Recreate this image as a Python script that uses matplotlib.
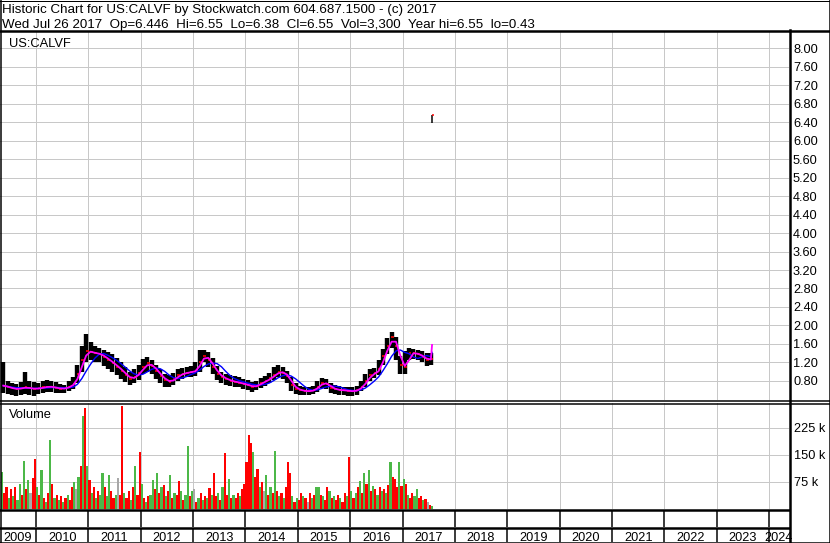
import matplotlib
matplotlib.use('Agg')
import matplotlib.pyplot as plt
from matplotlib.lines import Line2D
import numpy as np
import pandas as pd

plt.rcParams['font.family'] = ['Liberation Sans', 'DejaVu Sans']

W, H = 830, 543

header1 = "Historic Chart for US:CALVF by Stockwatch.com 604.687.1500 - (c) 2017"
header2 = "Wed Jul 26 2017  Op=6.446  Hi=6.55  Lo=6.38  Cl=6.55  Vol=3,300  Year hi=6.55  lo=0.43"
symbol = "US:CALVF"

# monthly bars, May 2009 .. Jul 2017
close = [0.70, 0.66, 0.64, 0.62, 0.65, 0.66, 0.64, 0.63,
         0.64, 0.66, 0.68, 0.67, 0.65, 0.63, 0.64, 0.68, 0.74, 0.95, 1.25, 1.45,
         1.42, 1.40, 1.38, 1.32, 1.25, 1.18, 1.10, 1.02, 0.92, 0.85, 0.88, 0.98,
         1.10, 1.18, 1.12, 1.02, 0.90, 0.82, 0.78, 0.84, 0.92, 0.96, 0.98, 1.00,
         1.02, 1.22, 1.35, 1.25, 1.10, 0.96, 0.88, 0.84, 0.80, 0.78, 0.76, 0.73,
         0.71, 0.67, 0.70, 0.76, 0.80, 0.86, 0.93, 1.00, 0.98, 0.90, 0.72, 0.63,
         0.60, 0.58, 0.58, 0.60, 0.68, 0.76, 0.74, 0.65, 0.62, 0.60, 0.60, 0.58,
         0.58, 0.60, 0.68, 0.80, 0.93, 0.97, 1.05, 1.35, 1.55, 1.75, 1.55, 1.15,
         1.10, 1.40, 1.40, 1.38, 1.32, 1.25, 1.28]
high = [1.22, 0.80, 0.76, 0.74, 0.78, 1.00, 0.80, 0.78,
        0.76, 0.80, 0.82, 0.80, 0.78, 0.74, 0.72, 0.80, 0.88, 1.15, 1.55, 1.82,
        1.65, 1.55, 1.52, 1.48, 1.42, 1.38, 1.30, 1.20, 1.10, 1.00, 1.05, 1.15,
        1.28, 1.32, 1.25, 1.15, 1.05, 0.95, 0.92, 0.98, 1.05, 1.08, 1.10, 1.12,
        1.20, 1.48, 1.48, 1.42, 1.30, 1.12, 1.00, 0.96, 0.92, 0.90, 0.88, 0.85,
        0.82, 0.78, 0.80, 0.86, 0.90, 0.98, 1.10, 1.15, 1.10, 1.02, 0.88, 0.75,
        0.70, 0.68, 0.66, 0.70, 0.80, 0.86, 0.84, 0.76, 0.72, 0.70, 0.68, 0.66,
        0.66, 0.70, 0.80, 0.96, 1.05, 1.08, 1.25, 1.50, 1.72, 1.85, 1.75, 1.35,
        1.45, 1.52, 1.50, 1.48, 1.45, 1.40, 1.40]
low = [0.55, 0.52, 0.50, 0.48, 0.50, 0.52, 0.50, 0.48,
       0.52, 0.55, 0.56, 0.56, 0.54, 0.54, 0.55, 0.58, 0.62, 0.75, 1.00, 1.20,
       1.25, 1.22, 1.20, 1.12, 1.05, 1.00, 0.92, 0.85, 0.78, 0.72, 0.75, 0.82,
       0.95, 1.00, 0.95, 0.85, 0.75, 0.68, 0.66, 0.72, 0.80, 0.85, 0.88, 0.88,
       0.90, 1.00, 1.20, 1.10, 0.95, 0.82, 0.76, 0.72, 0.70, 0.68, 0.66, 0.62,
       0.60, 0.56, 0.60, 0.65, 0.70, 0.75, 0.82, 0.88, 0.85, 0.75, 0.58, 0.52,
       0.50, 0.50, 0.50, 0.52, 0.56, 0.64, 0.62, 0.55, 0.52, 0.50, 0.50, 0.48,
       0.48, 0.50, 0.58, 0.68, 0.80, 0.86, 0.92, 1.15, 1.38, 1.52, 1.25, 0.95,
       0.95, 1.25, 1.28, 1.25, 1.20, 1.12, 1.15]

# last trading day (Jul 26 2017)
last_day = 2017.564
last_hi, last_lo, last_cl = 6.55, 6.38, 6.55
ma_fast_last = 1.58
ma_slow_last = 1.42

# volume in thousands, half-month bins from May 2009
vol = [104, 45, 60, 30, 55, 35, 60, 25, 70, 40,
       133, 55, 80, 45, 85, 138, 60, 40, 107, 30,
       20, 45, 190, 70, 30, 40, 25, 35, 20, 30,
       40, 25, 60, 75, 55, 90, 120, 257, 280, 120,
       80, 45, 60, 30, 50, 40, 100, 60, 35, 95,
       50, 30, 40, 87, 40, 286, 45, 30, 50, 25,
       60, 120, 40, 159, 70, 30, 20, 35, 40, 80,
       55, 100, 45, 60, 67, 35, 50, 93, 30, 45,
       40, 77, 50, 25, 40, 176, 35, 50, 55, 20,
       30, 45, 25, 35, 30, 57, 40, 100, 35, 45,
       25, 60, 156, 40, 82, 30, 40, 30, 45, 35,
       55, 70, 130, 205, 182, 157, 90, 110, 60, 75,
       50, 95, 40, 60, 45, 162, 50, 35, 45, 30,
       60, 130, 101, 35, 20, 30, 25, 45, 35, 30,
       20, 45, 30, 40, 60, 60, 40, 35, 25, 60,
       50, 30, 35, 25, 40, 30, 20, 45, 35, 144,
       50, 30, 45, 60, 77, 45, 100, 70, 107, 50,
       65, 55, 40, 60, 50, 55, 45, 67, 130, 89,
       84, 60, 130, 65, 84, 68, 40, 30, 45, 35,
       55, 30, 35, 25, 29, 20, 10, 8]
vol_dir = ("grrgrgrggr" "grgkrrgrgr" "grgrgrgrgr" "grrgkgrgrg" "rgrgrggrgg"
           "rrgkrrgrrg" "rgrrgrgrgg" "rgrgrgrgrg" "rrgrggrgkr" "grgrgrgrrg"
           "rgrrgrgrrg" "rrrrrgrrgr" "kgrgrgrgrg" "rrrgrgrrgr" "krgrggrgrr"
           "grgrrgrrgr" "grgrgrgrgr" "grgrgrgrgr" "rrgrgrgrrg" "grrgrkrg")

price_ticks = np.arange(0.8, 8.01, 0.4)
vol_ticks = [75000, 150000, 225000]
vol_labels = ["75 k", "150 k", "225 k"]
years = list(range(2009, 2025))

# ---- layout in pixels
px_per_year = 52.36
x0_year = 2010 + (0 - 36) / px_per_year
x1_year = 2010 + (789 - 36) / px_per_year


def rect(x0, y0, x1, y1):
    return [x0 / W, 1 - y1 / H, (x1 - x0) / W, (y1 - y0) / H]


def pt(px):
    return px * 72 / 100


fig = plt.figure(figsize=(W / 100, H / 100), dpi=100)
fig.patch.set_facecolor('white')

grid_kw = dict(color='#c8c8c8', lw=pt(1))

months = 2009 + (4 + np.arange(len(close)) + 0.5) / 12
vx = 2009 + 4 / 12 + (np.arange(len(vol)) + 0.5) / 24

# price panel
ax = fig.add_axes(rect(0, 31, 789, 400))
ax.set_xlim(x0_year, x1_year)
ax.set_ylim(0.389, 8.368)
ax.set_xticks(years[1:])
ax.set_yticks(price_ticks)
ax.set_yticklabels(["%.2f" % v for v in price_ticks])
ax.yaxis.tick_right()
ax.tick_params(axis='y', length=0, pad=pt(4), labelsize=9.2)
ax.tick_params(axis='x', length=0, labelbottom=False)
ax.grid(True, **grid_kw)
ax.set_axisbelow(True)
for s in ax.spines.values():
    s.set_visible(False)

ax.vlines(months, low, high, color='black', lw=pt(4.4), zorder=3)
ax.hlines(close, months - 0.5 / px_per_year, months + 2.4 / px_per_year,
          color='red', lw=pt(1.6), zorder=4)
ax.vlines(last_day, last_lo, last_hi, color='black', lw=pt(1.5), zorder=3)
ax.hlines(last_cl, last_day, last_day + 1.5 / px_per_year, color='red', lw=pt(1.5), zorder=4)

fast = pd.Series(close).rolling(2, min_periods=1).mean().tolist() + [ma_fast_last]
slow = pd.Series(close).rolling(5, min_periods=1).mean().tolist() + [ma_slow_last]
mx = list(months) + [last_day]
ax.plot(mx, slow, color='#0000ff', lw=pt(1.4), zorder=5)
ax.plot(mx, fast, color='#ff00ff', lw=pt(1.8), zorder=6)
ax.text(9 / 789, 1 - 16 / 369, symbol, transform=ax.transAxes, fontsize=9.3,
        va='baseline', ha='left')

# volume panel
axv = fig.add_axes(rect(0, 403, 789, 509))
axv.set_xlim(x0_year, x1_year)
axv.set_ylim(0, 294000)
axv.set_xticks(years[1:])
axv.set_yticks(vol_ticks)
axv.set_yticklabels(vol_labels)
axv.yaxis.tick_right()
axv.tick_params(axis='y', length=0, pad=pt(5), labelsize=9.2)
axv.tick_params(axis='x', length=0, labelbottom=False)
axv.grid(True, **grid_kw)
axv.set_axisbelow(True)
for s in axv.spines.values():
    s.set_visible(False)
cmap = {'r': '#ff0000', 'g': '#4cb848', 'k': '#a8a8a8'}
axv.bar(vx, np.array(vol) * 1000, width=1 / 24, color=[cmap[c] for c in vol_dir],
        linewidth=0, zorder=3)
axv.text(9 / 789, 1 - 15 / 106, "Volume", transform=axv.transAxes, fontsize=9.3,
         va='baseline', ha='left')

# strips under the volume panel
for (ya, yb, labels) in [(510, 527, False), (528, 542, True)]:
    axs = fig.add_axes(rect(0, ya, 789, yb))
    axs.set_xlim(x0_year, x1_year)
    axs.set_ylim(0, 1)
    axs.axis('off')
    axs.vlines(years[1:], 0, 1, color='black', lw=pt(1.5))
    if labels:
        for yr in years:
            a = max(yr, x0_year)
            b = min(yr + 1, x1_year)
            axs.text((a + b) / 2, 0.08, str(yr), ha='center', va='baseline',
                     fontsize=9.2, clip_on=False)

# frame lines


def fline(xa, ya, xb, yb, lw):
    fig.add_artist(Line2D([xa / W, xb / W], [1 - ya / H, 1 - yb / H],
                          color='black', lw=pt(lw), transform=fig.transFigure))


fline(0, 30.5, W, 30.5, 2.5)
fline(0, 400.5, W, 400.5, 1.5)
fline(0, 403.5, W, 403.5, 1.5)
fline(0, 509.5, 789, 509.5, 2.5)
fline(0, 527.5, 789, 527.5, 2.5)
fline(0, 542.5, W, 542.5, 1.5)
fline(789.5, 30, 789.5, H, 2.5)
fline(0.5, 0, 0.5, H, 1.5)
fline(829.5, 0, 829.5, H, 1.5)
fline(0, 0.5, W, 0.5, 1)

fig.text(2 / W, 1 - 13 / H, header1, fontsize=9.6, va='baseline', ha='left')
fig.text(2 / W, 1 - 28 / H, header2, fontsize=9.6, va='baseline', ha='left')

fig.savefig('out.png', dpi=100, facecolor='white')
